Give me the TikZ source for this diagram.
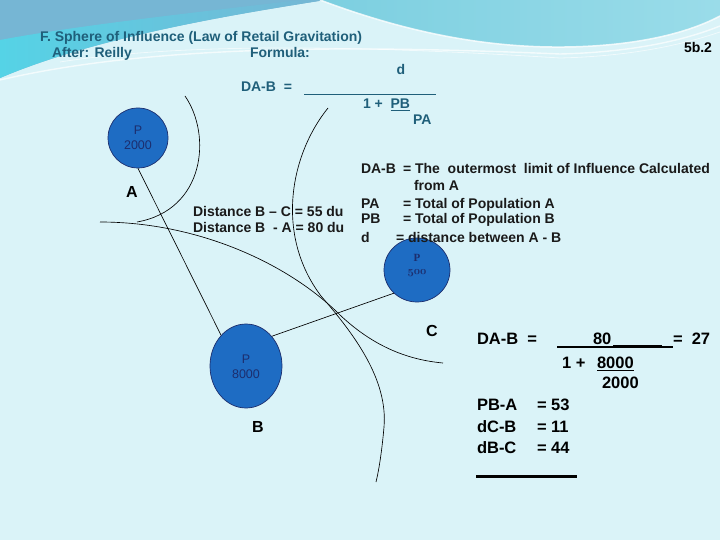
\documentclass[tikz,border=0pt]{standalone}
\usepackage{fontspec}
\usetikzlibrary{shapes.geometric}
\newfontfamily\arialf{Liberation Sans}
\newfontfamily\seriff{Liberation Serif}
\definecolor{bgc}{HTML}{DAF3F8}
\definecolor{steelc}{HTML}{76B6D4}
\definecolor{brightc}{HTML}{55D3E6}
\definecolor{cyanl}{HTML}{7CCFE0}
\definecolor{cyanr}{HTML}{9ADCE9}
\definecolor{tealc}{HTML}{1F5F7A}
\definecolor{darkc}{HTML}{1A1A1A}
\definecolor{navyc}{HTML}{1C2E6E}
\definecolor{cityc}{HTML}{1E6CC3}
\begin{document}
\begin{tikzpicture}[x=1pt,y=-1pt,
  lbl/.style={anchor=base west,inner sep=0pt,outer sep=0pt},
  tealtext/.style={lbl,text=tealc,font=\arialf\bfseries\fontsize{14}{16}\selectfont},
  deftext/.style={lbl,text=darkc,font=\arialf\bfseries\fontsize{14}{16}\selectfont},
  bigtext/.style={lbl,text=black,font=\arialf\bfseries\fontsize{16.5}{19}\selectfont},
  cityname/.style={anchor=base,inner sep=0pt,text=black,font=\arialf\bfseries\fontsize{16}{18}\selectfont},
  city/.style={ellipse,draw=navyc,fill=cityc,line width=0.7pt,inner sep=0pt},
  citytext/.style={anchor=base,inner sep=0pt,text=navyc,font=\arialf\fontsize{12.5}{14}\selectfont},
  thinline/.style={draw=black,line width=0.65pt},
]
% background
\useasboundingbox (0,0) rectangle (720,540);
\fill[bgc] (0,0) rectangle (720,540);
\fill[steelc] (0,0) -- (325,0) .. controls (250,12) and (100,35) .. (0,78) -- cycle;
\shade[left color=brightc,right color=steelc] (0,78) .. controls (100,35) and (250,12) .. (325,0) -- (300,0) .. controls (200,12) and (80,25) .. (0,40) -- cycle;
\shade[left color=cyanl,right color=cyanr] (320,0) .. controls (400,30) and (480,48) .. (565,47) .. controls (640,46) and (690,32) .. (720,16) -- (720,0) -- cycle;
\draw[white,line width=1.5pt,opacity=0.8] (320,0) .. controls (400,30) and (480,48) .. (565,47) .. controls (640,46) and (690,32) .. (720,16);
\draw[white,line width=1.4pt,opacity=0.7] (0,80) .. controls (150,45) and (350,45) .. (560,54) .. controls (640,52) and (690,38) .. (720,26);
\draw[white,line width=0.8pt,opacity=0.6] (60,62) .. controls (200,40) and (400,48) .. (560,58) .. controls (640,56) and (690,42) .. (720,32);

% header texts
\node[tealtext] (title) at (40,42) {F. Sphere of Influence (Law of Retail Gravitation)};
\node[tealtext] (after) at (52,58) {After: Reilly};
\node[tealtext] (formula) at (250,58) {Formula:};
\node[lbl,text=black,font=\arialf\bfseries\fontsize{14}{16}\selectfont] (num) at (684,53) {5b.2};
\node[tealtext,anchor=base] (fd) at (401,75) {d};
\node[tealtext] (fdab) at (241,92) {DA-B\ \ =};
\coordinate (fl1) at (304,94);
\coordinate (fl2) at (436,94);
\draw[tealc,line width=0.9pt] (fl1) -- (fl2);
\node[tealtext] (fone) at (363,109) {1 +\ \ \underline{PB}};
\node[tealtext] (fpa) at (413,125) {PA};

% arcs
\draw[thinline] (185,96) .. controls (212,135) and (205,210) .. (137,222);
\draw[thinline] (100,222) .. controls (200,222) and (290,265) .. (340,315) .. controls (375,348) and (410,360) .. (443,363);
\draw[thinline] (328,108) .. controls (290,155) and (275,235) .. (321,296) .. controls (355,335) and (388,380) .. (384,427) .. controls (382,450) and (379,470) .. (376,482);

% cities
\node[city,minimum width=60pt,minimum height=60pt] (A) at (138,138) {};
\node[city,minimum width=72pt,minimum height=84pt] (B) at (246,366) {};
\node[city,minimum width=66pt,minimum height=64pt] (C) at (417,270) {};
\draw[thinline] (A.south) -- (B.129);
\draw[thinline] (B.49) -- (C.225);

\node[citytext] (Ap) at (138,135) {P};
\node[citytext] (An) at (138,150) {2000};
\node[citytext] (Bp) at (246,363) {P};
\node[citytext] (Bn) at (246,378) {8000};
\node[anchor=base,inner sep=0pt,text=navyc,font=\seriff\bfseries\fontsize{11}{13}\selectfont] (Cp) at (417,261) {P};
\node[inner sep=0pt,text=navyc] (Cn) at (417,273) {\fontsize{11}{13}\usefont{OML}{cmm}{b}{it}500};

\node[cityname] (Al) at (132,198) {A};
\node[cityname] (Bl) at (258,432) {B};
\node[cityname] (Cl) at (432,336) {C};

% distances
\node[deftext] (d1) at (193,217) {Distance B – C = 55 du};
\node[deftext] (d2) at (193,233) {Distance B\ \ - A = 80 du};

% definitions
\node[deftext] (k1) at (361,174) {DA-B};
\node[deftext] (v1) at (403,174) {= The\ \ outermost\ \ limit of Influence Calculated};
\node[deftext] (v1b) at (414,191) {from A};
\node[deftext] (k2) at (361,208) {PA};
\node[deftext] (v2) at (403,208) {= Total of Population A};
\node[deftext] (k3) at (361,224) {PB};
\node[deftext] (v3) at (403,224) {= Total of Population B};
\node[deftext] (k4) at (361,242) {d};
\node[deftext] (v4) at (396,242) {= distance between A - B};

% worked example
\node[bigtext] (e1) at (477,344) {DA-B\ \ =};
\node[bigtext] (e80) at (593,344) {80};
\node[bigtext] (e27) at (673,344) {=\ \ 27};
\coordinate (el1) at (557,347);
\coordinate (el2) at (673,347);
\coordinate (et1) at (613,346.5);
\coordinate (et2) at (662,346.5);
\draw[black,line width=1.3pt] (el1) -- (el2);
\draw[black,line width=2.2pt] (et1) -- (et2);
\node[bigtext] (e1p) at (562,368) {1 +};
\node[bigtext] (e8) at (597,368) {8000};
\draw[black,line width=1.6pt] ([yshift=-2.5pt]e8.base west) -- ([yshift=-2.5pt]e8.base east);
\node[bigtext] (e2) at (602,388) {2000};
\node[bigtext] (r1) at (477,410) {PB-A};
\node[bigtext] (r1v) at (537,410) {= 53};
\node[bigtext] (r2) at (477,432) {dC-B};
\node[bigtext] (r2v) at (537,432) {= 11};
\node[bigtext] (r3) at (477,453) {dB-C};
\node[bigtext] (r3v) at (537,453) {= 44};
\coordinate (u1) at (476,476);
\coordinate (u2) at (577,476);
\draw[black,line width=3pt] (u1) -- (u2);
\end{tikzpicture}
\end{document}
